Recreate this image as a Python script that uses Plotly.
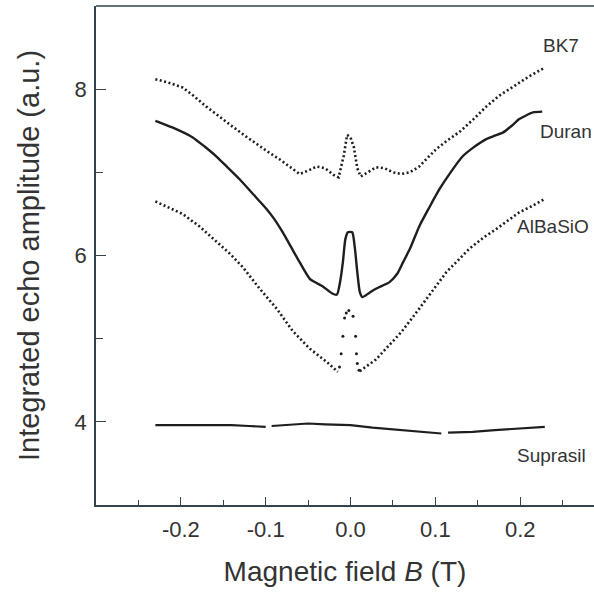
import plotly.graph_objects as go

# ---- data ----
bk7_x = [-0.230, -0.215, -0.198, -0.185, -0.170, -0.155, -0.139, -0.123, -0.107, -0.095,
         -0.084, -0.070, -0.060, -0.050, -0.040, -0.030, -0.020, -0.014, -0.008, -0.004,
         0.000, 0.004, 0.008, 0.012, 0.020, 0.030, 0.040, 0.050, 0.060, 0.070,
         0.081, 0.091, 0.101, 0.115, 0.129, 0.145, 0.160, 0.175, 0.191, 0.210, 0.229]
bk7_y = [8.12, 8.08, 8.02, 7.92, 7.79, 7.67, 7.55, 7.43, 7.31, 7.23,
         7.16, 7.05, 6.98, 7.02, 7.07, 7.05, 6.97, 6.94, 7.20, 7.45,
         7.42, 7.30, 7.05, 6.95, 7.00, 7.06, 7.05, 7.00, 6.98, 7.00,
         7.07, 7.18, 7.28, 7.39, 7.49, 7.64, 7.79, 7.92, 8.03, 8.15, 8.26]

duran_x = [-0.230, -0.210, -0.186, -0.172, -0.158, -0.145, -0.131, -0.115, -0.099, -0.090,
           -0.080, -0.070, -0.060, -0.048, -0.040, -0.033, -0.021, -0.016, -0.012, -0.009,
           -0.006, -0.003, 0.002, 0.005, 0.008, 0.011, 0.014, 0.022, 0.030, 0.046,
           0.055, 0.062, 0.070, 0.081, 0.093, 0.105, 0.118, 0.132, 0.145, 0.160,
           0.170, 0.180, 0.190, 0.199, 0.215, 0.226]
duran_y = [7.62, 7.54, 7.42, 7.31, 7.19, 7.06, 6.92, 6.74, 6.56, 6.44,
           6.28, 6.10, 5.92, 5.72, 5.67, 5.63, 5.54, 5.53, 5.70, 5.92,
           6.20, 6.28, 6.28, 6.10, 5.80, 5.56, 5.50, 5.55, 5.60, 5.68,
           5.78, 5.92, 6.08, 6.35, 6.58, 6.80, 7.00, 7.19, 7.30, 7.40,
           7.44, 7.48, 7.56, 7.64, 7.72, 7.73]

albasio_x = [-0.230, -0.198, -0.178, -0.158, -0.142, -0.127, -0.107, -0.087, -0.068, -0.048,
             -0.038, -0.028, -0.015, None, 0.011, 0.020, 0.030, 0.040, 0.060, 0.078,
             0.090, 0.113, 0.140, 0.156, 0.172, 0.186, 0.199, 0.215, 0.229]
albasio_y = [6.65, 6.50, 6.35, 6.17, 6.02, 5.86, 5.60, 5.36, 5.09, 4.88,
             4.80, 4.72, 4.60, None, 4.61, 4.68, 4.75, 4.86, 5.08, 5.32,
             5.48, 5.80, 6.08, 6.21, 6.32, 6.42, 6.52, 6.60, 6.68]
albasio_peak_x = [-0.013, -0.011, -0.009, -0.007, -0.005, -0.002, 0.003, 0.006, 0.007, 0.008, 0.010]
albasio_peak_y = [4.66, 4.82, 5.03, 5.25, 5.31, 5.34, 5.27, 5.03, 4.82, 4.70, 4.62]

suprasil_x = [-0.230, -0.200, -0.170, -0.140, -0.120, -0.100, None, -0.093, -0.070, -0.050,
              -0.030, 0.000, 0.026, 0.050, 0.070, 0.090, 0.107, None, 0.115, 0.144, 0.170,
              0.200, 0.229]
suprasil_y = [3.96, 3.96, 3.96, 3.96, 3.95, 3.94, None, 3.95, 3.97, 3.98,
              3.97, 3.96, 3.93, 3.91, 3.89, 3.87, 3.86, None, 3.87, 3.88, 3.90,
              3.92, 3.94]

x_ticks = [-0.2, -0.1, 0.0, 0.1, 0.2]
x_ticktext = ["-0.2", "-0.1", "0.0", "0.1", "0.2"]
x_minor = [-0.25, -0.15, -0.05, 0.05, 0.15, 0.25]
y_ticks = [4, 6, 8]
y_ticktext = ["4", "6", "8"]
y_minor = [5, 7]

labels = ["BK7", "Duran", "AlBaSiO", "Suprasil"]
label_x = [0.224, 0.221, 0.194, 0.194]
label_y = [8.52, 7.49, 6.35, 3.60]

INK = "#1e1e1e"
AXIS = "#34444f"
TXT = "#333333"
FONT = "Liberation Sans, Arial, sans-serif"

fig = go.Figure()
fig.add_trace(go.Scatter(x=bk7_x, y=bk7_y, mode="lines",
                         line=dict(color=INK, width=2.6, dash="2px,2.5px")))
fig.add_trace(go.Scatter(x=duran_x, y=duran_y, mode="lines", line_shape="spline",
                         line=dict(color=INK, width=2.4, smoothing=0.6)))
fig.add_trace(go.Scatter(x=albasio_x, y=albasio_y, mode="lines",
                         line=dict(color=INK, width=2.6, dash="2px,2.5px")))
fig.add_trace(go.Scatter(x=albasio_peak_x, y=albasio_peak_y, mode="markers",
                         marker=dict(color=INK, size=3)))
fig.add_trace(go.Scatter(x=suprasil_x, y=suprasil_y, mode="lines",
                         line=dict(color=INK, width=2.2)))

for t, xx, yy in zip(labels, label_x, label_y):
    fig.add_annotation(x=xx, y=yy, text=t, showarrow=False, xanchor="left",
                       yanchor="middle", font=dict(size=19, color=TXT, family=FONT))

fig.add_shape(type="line", xref="paper", yref="paper", x0=0, x1=1, y0=1, y1=1,
              line=dict(color=AXIS, width=1.5))

fig.update_layout(
    width=594, height=593,
    margin=dict(l=96, r=0, t=6, b=88),
    paper_bgcolor="white", plot_bgcolor="white",
    showlegend=False,
    font=dict(family=FONT, color=TXT),
    xaxis=dict(range=[-0.30, 0.287], showgrid=False, zeroline=False,
               showline=True, linecolor=AXIS, linewidth=1.5,
               ticks="inside", ticklen=8, tickwidth=1.3, tickcolor=AXIS,
               tickvals=x_ticks, ticktext=x_ticktext,
               tickfont=dict(size=22, color=TXT), ticklabelstandoff=4,
               minor=dict(tickvals=x_minor, ticks="inside", ticklen=5, tickwidth=1.3, tickcolor=AXIS),
               title=dict(text="Magnetic field <i>B</i> (T)", font=dict(size=28, color=TXT), standoff=20)),
    yaxis=dict(range=[3.0, 9.0], showgrid=False, zeroline=False,
               showline=True, linecolor=AXIS, linewidth=1.5,
               ticks="inside", ticklen=10, tickwidth=1.3, tickcolor=AXIS,
               tickvals=y_ticks, ticktext=y_ticktext,
               tickfont=dict(size=22, color=TXT), ticklabelstandoff=3,
               minor=dict(tickvals=y_minor, ticks="inside", ticklen=7, tickwidth=1.3, tickcolor=AXIS),
               title=dict(text="Integrated echo amplitude (a.u.)", font=dict(size=29, color=TXT), standoff=26)),
)

fig.write_html("out.html")
